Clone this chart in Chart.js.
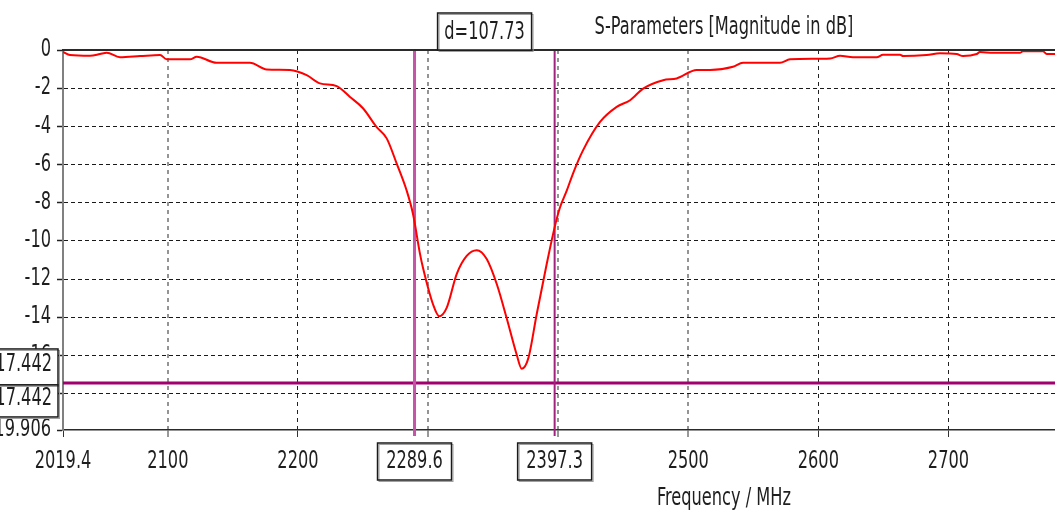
<!DOCTYPE html>
<html>
<head>
<meta charset="utf-8">
<script src="https://cdn.jsdelivr.net/npm/chart.js@4.4.0/dist/chart.umd.min.js"></script>
<style>
  html, body { margin: 0; padding: 0; background: #fff; }
  #wrap { position: relative; width: 1055px; height: 512px; }
</style>
</head>
<body>
<div id="wrap"><canvas id="js-sparam-chart"></canvas></div>
<script>
// 読み取った曲線データ (MHz / dB)
const freqs = [2019.4, 2024.8, 2040.2, 2047.8, 2053.0, 2063.2, 2078.6, 2094.0, 2099.1, 2117.0,
  2122.2, 2137.5, 2163.1, 2176.0, 2193.9, 2206.7, 2216.9, 2229.8, 2240.0, 2250.0,
  2260.5, 2268.2, 2275.9, 2283.6, 2288.4, 2293.8, 2296.1, 2303.8, 2308.6, 2314.3,
  2322.0, 2329.7, 2337.4, 2345.1, 2352.8, 2360.4, 2368.1, 2372.0, 2377.1, 2383.5,
  2391.2, 2397.6, 2401.4, 2406.6, 2411.4, 2419.1, 2432.2, 2445.0, 2455.3, 2465.3,
  2480.7, 2491.1, 2506.5, 2516.7, 2534.4, 2542.1, 2570.5, 2578.2, 2609.1, 2616.7,
  2626.6, 2644.8, 2649.7, 2662.8, 2665.1, 2683.3, 2693.5, 2706.3, 2711.2, 2721.7,
  2724.2, 2734.3, 2755.0, 2757.3, 2772.7, 2775.5, 2781.9];
const mags = [-0.10, -0.26, -0.30, -0.21, -0.14, -0.38, -0.32, -0.26, -0.49, -0.49,
  -0.35, -0.67, -0.67, -1.02, -1.05, -1.32, -1.75, -1.89, -2.46, -3.05,
  -4.04, -4.63, -5.95, -7.37, -8.58, -10.68, -11.41, -13.32, -13.95, -13.51,
  -11.74, -10.79, -10.49, -10.95, -12.26, -14.04, -15.95, -16.70, -16.14, -13.84,
  -11.21, -9.20, -8.25, -7.37, -6.47, -5.26, -3.77, -2.98, -2.63, -2.02,
  -1.58, -1.49, -1.05, -1.05, -0.88, -0.67, -0.67, -0.49, -0.44, -0.30,
  -0.38, -0.38, -0.25, -0.25, -0.32, -0.26, -0.17, -0.21, -0.32, -0.21,
  -0.11, -0.14, -0.14, -0.07, -0.07, -0.21, -0.21];

// 軸の目盛り
const xTicks = [2019.4, 2100, 2200, 2300, 2400, 2500, 2600, 2700];
const xTickLabels = ['2019.4', '2100', '2200', '', '', '2500', '2600', '2700'];
const yTicks = [0, -2, -4, -6, -8, -10, -12, -14, -16, -18, -19.906];
const yTickLabels = ['0', '-2', '-4', '-6', '-8', '-10', '-12', '-14', '-16', '-18', '-19.906'];

// マーカー
const markerFreqs = [2289.6, 2397.3];
const markerFreqLabels = ['2289.6', '2397.3'];
const markerLevel = -17.442;
const markerLevelLabels = ['-17.442', '-17.442'];
const deltaLabel = 'd=107.73';

const chartTitle = 'S-Parameters [Magnitude in dB]';
const xTitle = 'Frequency / MHz';

const fontFamily = '"DejaVu Sans Condensed", "DejaVu Sans", sans-serif';
const textColor = '#1e1e1e';
// 細長いフォントに見せるための横方向の縮小率
const squeeze = 0.75;

function squeezedText(ctx, text, x, y, align) {
  ctx.save();
  ctx.translate(x, y);
  ctx.scale(squeeze, 1);
  ctx.textAlign = align;
  ctx.fillText(text, 0, 0);
  ctx.restore();
}

function drawBox(ctx, x1, y1, x2, y2) {
  ctx.fillStyle = '#ffffff';
  ctx.fillRect(x1, y1, x2 - x1, y2 - y1);
  ctx.strokeStyle = '#a0a0a0';
  ctx.lineWidth = 1;
  ctx.strokeRect(x1 + 1.5, y1 + 1.5, x2 - x1, y2 - y1);
  ctx.strokeStyle = '#1a1a1a';
  ctx.lineWidth = 1.5;
  ctx.strokeRect(x1, y1, x2 - x1, y2 - y1);
}

// マーカー線・目盛りラベル・枠付きラベル
const markers = {
  id: 'markers',
  beforeDatasetsDraw(chart) {
    const { ctx, chartArea: { left, right, top, bottom }, scales: { x, y } } = chart;
    ctx.save();
    const my = y.getPixelForValue(markerLevel);
    ctx.strokeStyle = '#a2006e';
    ctx.lineWidth = 3;
    ctx.beginPath();
    ctx.moveTo(left, my);
    ctx.lineTo(right, my);
    ctx.stroke();

    const styles = [['#c455a6', 3], ['#a0247e', 2]];
    markerFreqs.forEach((f, i) => {
      const px = x.getPixelForValue(f);
      ctx.strokeStyle = styles[i][0];
      ctx.lineWidth = styles[i][1];
      ctx.beginPath();
      ctx.moveTo(px, top);
      ctx.lineTo(px, bottom + 6);
      ctx.stroke();
    });
    ctx.restore();
  },
  afterDraw(chart) {
    const { ctx, chartArea: { left, right, top, bottom }, scales: { x, y } } = chart;
    ctx.save();
    // 上枠
    ctx.strokeStyle = '#2a2a2a';
    ctx.lineWidth = 2;
    ctx.beginPath();
    ctx.moveTo(left - 1, top);
    ctx.lineTo(right, top);
    ctx.stroke();

    ctx.font = '24px ' + fontFamily;
    ctx.fillStyle = textColor;
    ctx.textBaseline = 'middle';

    // 目盛りラベル
    xTicks.forEach((v, i) => {
      squeezedText(ctx, xTickLabels[i], x.getPixelForValue(v), bottom + 32, 'center');
    });
    yTicks.forEach((v, i) => {
      squeezedText(ctx, yTickLabels[i], left - 12, y.getPixelForValue(v), 'right');
    });

    // 周波数マーカーのラベル
    markerFreqs.forEach((f, i) => {
      const px = x.getPixelForValue(f);
      drawBox(ctx, px - 37, bottom + 13, px + 37, bottom + 50);
      ctx.fillStyle = textColor;
      squeezedText(ctx, markerFreqLabels[i], px, bottom + 32, 'center');
    });

    // 差分ラベル
    const p1 = x.getPixelForValue(markerFreqs[0]);
    const p2 = x.getPixelForValue(markerFreqs[1]);
    const mid = (p1 + p2) / 2;
    drawBox(ctx, mid - 47, top - 37, mid + 47, top);
    ctx.fillStyle = textColor;
    squeezedText(ctx, deltaLabel, mid, top - 17, 'center');

    // レベルマーカーのラベル
    const my = y.getPixelForValue(markerLevel);
    drawBox(ctx, -20, my - 34, left - 5, my + 2);
    drawBox(ctx, -20, my + 2, left - 5, my + 34);
    ctx.fillStyle = textColor;
    squeezedText(ctx, markerLevelLabels[0], left - 11, my - 18, 'right');
    squeezedText(ctx, markerLevelLabels[1], left - 11, my + 16, 'right');

    // タイトル
    squeezedText(ctx, chartTitle, 724, 28, 'center');
    squeezedText(ctx, xTitle, 724, 499, 'center');
    ctx.restore();
  }
};

const ctx = document.getElementById('js-sparam-chart').getContext('2d');

const myChart = new Chart(ctx, {
  type: 'line',
  data: {
    datasets: [{
      label: 'S-Parameters',
      data: freqs.map((f, i) => ({ x: f, y: mags[i] })),
      borderColor: '#ff0000',
      borderWidth: 2,
      pointRadius: 0,
      cubicInterpolationMode: 'monotone',
      fill: false,
    }]
  },
  options: {
    responsive: true,
    maintainAspectRatio: false,
    animation: false,
    layout: { padding: { top: 50, left: 0, right: 0, bottom: 0 } },
    plugins: {
      legend: { display: false },
      tooltip: { enabled: false },
    },
    scales: {
      x: {
        type: 'linear',
        min: 2019.4,
        max: 2781.9,
        afterBuildTicks: (scale) => { scale.ticks = xTicks.map(v => ({ value: v })); },
        afterFit: (scale) => { scale.height = 82; },
        ticks: { display: false },
        grid: {
          color: (c) => {
            const v = c.tick && c.tick.value;
            if (v === 2019.4) return 'rgba(0,0,0,0)';
            return [2100, 2300, 2400, 2500].includes(v) ? 'rgba(60,60,60,0.55)' : '#222';
          },
          lineWidth: (c) => ([2100, 2300, 2400, 2500].includes(c.tick && c.tick.value) ? 2 : 1),
          tickLength: 7,
          tickColor: '#333',
          tickWidth: 1,
        },
        border: { display: true, color: '#2a2a2a', width: 1.5, dash: [4, 4] },
      },
      y: {
        min: -19.906,
        max: 0,
        afterBuildTicks: (scale) => { scale.ticks = yTicks.map(v => ({ value: v })); },
        afterFit: (scale) => { scale.width = 63; },
        ticks: { display: false },
        grid: {
          color: (c) => {
            const v = c.tick && c.tick.value;
            return (v === 0 || v === -19.906) ? 'rgba(0,0,0,0)' : '#1a1a1a';
          },
          lineWidth: 1,
          tickLength: 6,
          tickColor: '#222',
          tickWidth: 1.5,
        },
        border: { display: true, color: '#808080', width: 2, dash: [4, 3] },
      }
    }
  },
  plugins: [markers],
});
</script>
</body>
</html>
